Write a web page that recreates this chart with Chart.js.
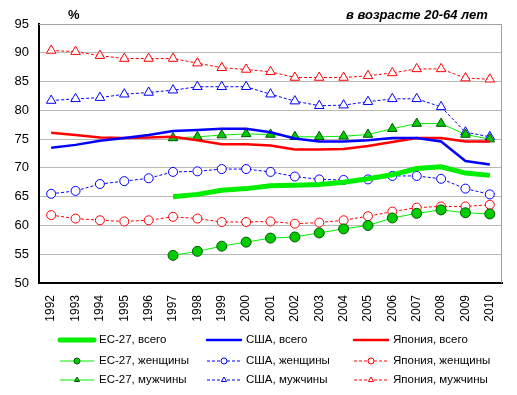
<!DOCTYPE html>
<html>
<head>
<meta charset="utf-8">
<script src="https://cdn.jsdelivr.net/npm/chart.js@4/dist/chart.umd.min.js"></script>
<style>
  html, body { margin: 0; padding: 0; background: #fff; }
  #wrap { width: 517px; height: 395px; }
</style>
</head>
<body>
<div id="wrap"><canvas id="myChart" width="517" height="395"></canvas></div>
<script>
// годы
var years = ["1992","1993","1994","1995","1996","1997","1998","1999","2000","2001",
             "2002","2003","2004","2005","2006","2007","2008","2009","2010"];
var yTicks = [50, 55, 60, 65, 70, 75, 80, 85, 90, 95];

// ЕС-27 (нет данных до 1997)
var euTotal = [null,null,null,null,null,65.0,65.4,66.1,66.4,66.9,67.0,67.1,67.5,68.1,68.8,69.9,70.2,69.1,68.7];
var euWomen = [null,null,null,null,null,54.8,55.5,56.4,57.1,57.8,58.0,58.7,59.4,60.0,61.3,62.1,62.7,62.2,62.0];
var euMen   = [null,null,null,null,null,75.2,75.4,75.7,75.9,75.8,75.4,75.4,75.5,75.8,76.8,77.7,77.7,75.8,75.0];

// США
var usTotal = [73.5,74.0,74.7,75.2,75.7,76.4,76.6,76.8,76.8,76.2,75.1,74.6,74.6,74.8,75.2,75.2,74.6,71.2,70.6];
var usWomen = [65.5,66.0,67.2,67.7,68.2,69.3,69.4,69.8,69.8,69.3,68.5,68.0,67.9,68.0,68.6,68.6,68.1,66.4,65.4];
var usMen   = [81.7,82.0,82.2,82.8,83.1,83.5,84.1,84.1,84.1,82.8,81.6,80.8,80.9,81.5,82.0,82.0,80.6,76.2,75.4];

// Япония
var jpTotal = [76.1,75.7,75.3,75.2,75.3,75.4,74.8,74.1,74.1,73.9,73.2,73.2,73.3,73.8,74.5,75.2,75.2,74.6,74.6];
var jpWomen = [61.8,61.2,60.9,60.7,60.9,61.5,61.2,60.6,60.6,60.7,60.3,60.5,60.9,61.6,62.4,63.1,63.3,63.3,63.6];
var jpMen   = [90.4,90.2,89.5,89.0,89.0,89.0,88.2,87.4,87.1,86.7,85.7,85.7,85.7,86.0,86.5,87.2,87.2,85.6,85.4];

var GREEN = "#00ee00", BLUE = "#0000ff", RED = "#ff0000";
var FONT = "'Liberation Sans', Arial, sans-serif";

function thick(label, data, color, w) {
    return { label: label, data: data, borderColor: color, backgroundColor: color,
             borderWidth: w, pointRadius: 0, tension: 0, order: 1 };
}
function marked(label, data, color, style, filled, dash) {
    return { label: label, data: data, borderColor: color,
             backgroundColor: color, borderWidth: 1, borderDash: dash,
             pointStyle: style,
             pointRadius: style === "triangle" ? 5.5 : (filled ? 5 : 4.5),
             pointBackgroundColor: filled ? "#00cc00" : "#ffffff",
             pointBorderColor: filled ? "#005500" : color,
             pointBorderWidth: 1, tension: 0, order: 2 };
}

var datasets = [
    thick("ЕС-27, всего", euTotal, GREEN, 5),
    thick("США, всего", usTotal, BLUE, 2.5),
    thick("Япония, всего", jpTotal, RED, 2.5),
    marked("ЕС-27, женщины", euWomen, GREEN, "circle", true, []),
    marked("США, женщины", usWomen, BLUE, "circle", false, [3, 2]),
    marked("Япония, женщины", jpWomen, RED, "circle", false, [3, 2]),
    marked("ЕС-27, мужчины", euMen, GREEN, "triangle", true, []),
    marked("США, мужчины", usMen, BLUE, "triangle", false, [3, 2]),
    marked("Япония, мужчины", jpMen, RED, "triangle", false, [3, 2])
];

// рамка, подписи и легенда
var extras = {
    id: "extras",
    beforeDatasetsDraw: function (chart) {
        var a = chart.chartArea, c = chart.ctx;
        c.save();
        c.strokeStyle = "#a0a0a0";
        c.lineWidth = 1;
        c.beginPath();
        c.moveTo(a.left, a.top + 0.5);
        c.lineTo(a.right - 0.5, a.top + 0.5);
        c.lineTo(a.right - 0.5, a.bottom);
        c.stroke();
        c.restore();
    },
    afterDraw: function (chart) {
        var c = chart.ctx;
        c.save();
        c.fillStyle = "#000";
        c.textBaseline = "middle";
        c.font = "bold 13px " + FONT;
        c.textAlign = "left";
        c.fillText("%", 68, 15);
        c.font = "italic bold 13px " + FONT;
        c.fillText("в возрасте 20-64 лет", 346, 15);

        // легенда 3x3
        var cols = [60, 207, 354], rows = [340, 361, 380];
        c.font = "11.5px " + FONT;
        chart.data.datasets.forEach(function (ds, i) {
            var col = i % 3, row = Math.floor(i / 3);
            var x = cols[col], y = rows[row];
            c.save();
            c.strokeStyle = ds.borderColor;
            c.lineWidth = ds.borderWidth;
            c.setLineDash(ds.borderDash || []);
            c.lineCap = row === 0 ? "round" : "butt";
            c.beginPath();
            c.moveTo(x, y);
            c.lineTo(x + 34, y);
            c.stroke();
            c.restore();
            if (row > 0 && Chart.helpers && Chart.helpers.drawPoint) {
                c.save();
                c.fillStyle = ds.pointBackgroundColor;
                c.strokeStyle = ds.pointBorderColor;
                c.lineWidth = 1;
                Chart.helpers.drawPoint(c, { pointStyle: ds.pointStyle, radius: 3, rotation: 0, borderWidth: 1 }, x + 17, y);
                c.restore();
            }
            c.fillStyle = "#000";
            c.fillText(ds.label, x + 39, y);
        });
        c.restore();
    }
};

var ctx = document.getElementById("myChart");
var myChart = new Chart(ctx, {
    type: "line",
    data: { labels: years, datasets: datasets },
    options: {
        responsive: false,
        animation: false,
        layout: { padding: { left: 0, top: 24, right: 15, bottom: 0 } },
        plugins: { legend: { display: false }, tooltip: { enabled: false } },
        scales: {
            x: {
                offset: true,
                grid: { display: false },
                border: { display: true, color: "#000", width: 2 },
                ticks: { minRotation: 90, maxRotation: 90, autoSkip: false, padding: 4,
                         color: "#000", font: { family: FONT, size: 12 } },
                afterFit: function (scale) { scale.height = 112; }
            },
            y: {
                min: 50, max: 95,
                afterBuildTicks: function (scale) {
                    scale.ticks = yTicks.map(function (v) { return { value: v }; });
                },
                grid: { color: "#b8b8b8", lineWidth: 1, drawTicks: false },
                border: { display: true, color: "#000", width: 2 },
                ticks: { padding: 10, color: "#000", font: { family: FONT, size: 13 } },
                afterFit: function (scale) { scale.width = 39; }
            }
        }
    },
    plugins: [extras]
});
</script>
</body>
</html>
